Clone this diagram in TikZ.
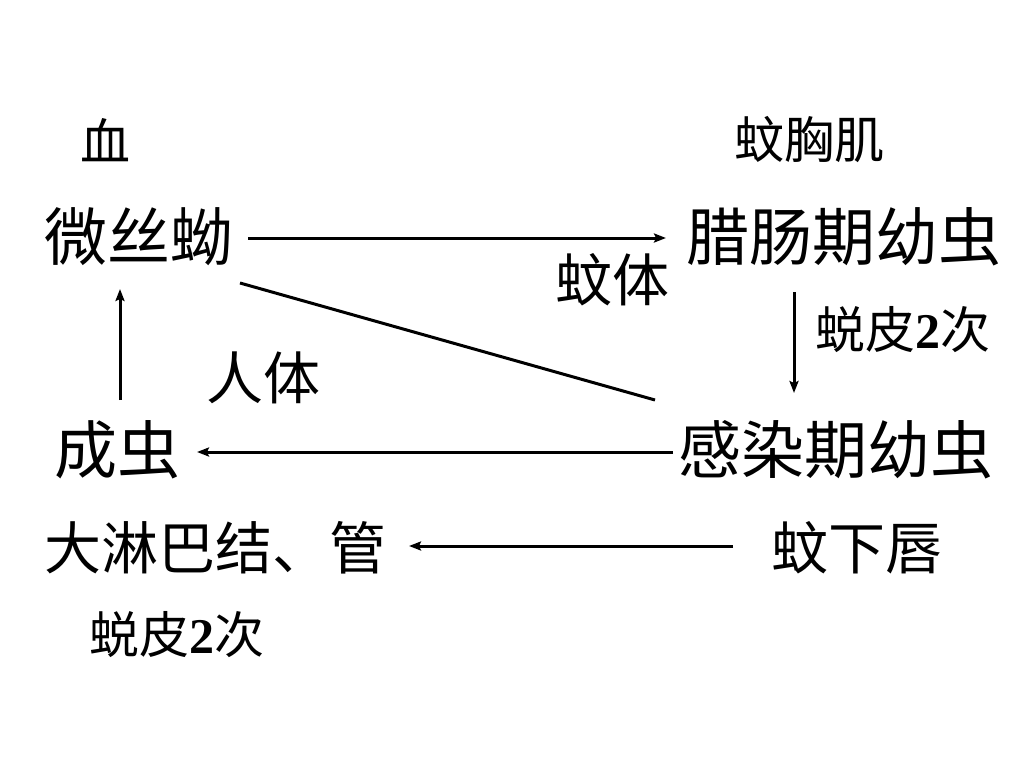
\documentclass[tikz,border=0pt]{standalone}
\usepackage{fontspec}
\newfontfamily\cjk{Noto Sans CJK SC}
\newfontfamily\tnr{Liberation Serif}
\usetikzlibrary{arrows.meta}
\begin{document}
\begin{tikzpicture}[x=1pt,y=-1pt,
  lbl/.style={inner sep=0pt,outer sep=0pt},
  big/.style={lbl,font=\cjk\fontsize{63}{63}\selectfont},
  mid/.style={lbl,font=\cjk\fontsize{57}{57}\selectfont},
  sml/.style={lbl,font=\cjk\fontsize{50}{50}\selectfont},
  conn/.style={line width=3pt},
  arr/.style={conn,-{Stealth[length=12pt,width=9pt,inset=2pt]}}]
\useasboundingbox[fill=white] (0,0) rectangle (1024,768);
\node[sml] (xue) at (105,140) {血};
\node[sml] (wxj) at (809,140) {蚊胸肌};
\node[big] (wxx) at (139,237) {微丝蚴};
\node[big] (lcq) at (844,237) {腊肠期幼虫};
\node[mid] (wtj) at (612,280) {蚊体};
\node[sml] (tp1) at (903,330) {蜕皮{\tnr\bfseries 2}次};
\node[mid] (rt) at (263,378) {人体};
\node[big] (cc) at (117,450) {成虫};
\node[big] (grq) at (836,450) {感染期幼虫};
\node[mid] (dlb) at (215,548) {大淋巴结、管};
\node[mid] (wxc) at (857,548) {蚊下唇};
\node[sml] (tp2) at (177,635) {蜕皮{\tnr\bfseries 2}次};
% arrow endpoints
\coordinate (a1s) at (248,238);
\coordinate (a1e) at (666,238);
\coordinate (d1s) at (240,283);
\coordinate (d1e) at (655,400);
\coordinate (u1s) at (120,400);
\coordinate (u1e) at (120,289);
\coordinate (v1s) at (794,292);
\coordinate (v1e) at (794,393);
\coordinate (h2s) at (673,452);
\coordinate (h2e) at (197,452);
\coordinate (h3s) at (733,546);
\coordinate (h3e) at (409,546);
\draw[arr] (a1s) -- (a1e);
\draw[conn] (d1s) -- (d1e);
\draw[arr] (u1s) -- (u1e);
\draw[arr] (v1s) -- (v1e);
\draw[arr] (h2s) -- (h2e);
\draw[arr] (h3s) -- (h3e);
\end{tikzpicture}
\end{document}
